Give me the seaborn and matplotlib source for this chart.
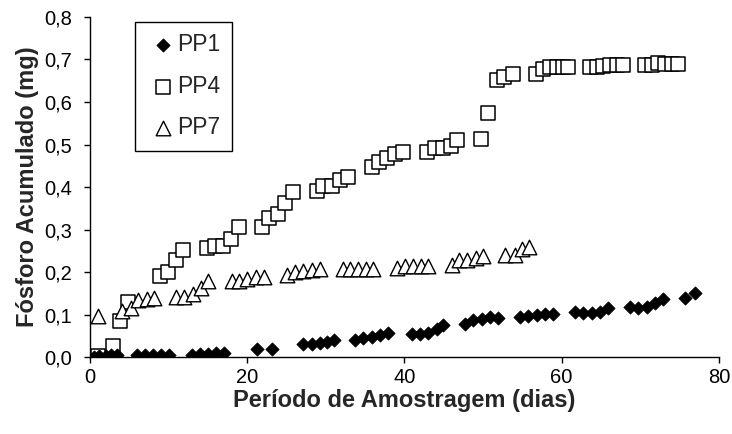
import matplotlib
matplotlib.use("Agg")
import matplotlib.pyplot as plt
from matplotlib.ticker import FuncFormatter
import pandas as pd
import seaborn as sns

# PP1 readings (days, mg)
pp1_dias = [0.5, 1.2, 2.0, 2.7, 3.4,
            6, 7, 8, 9, 10,
            13, 14, 15, 16, 17,
            21.2, 23.2,
            27.1, 28.2, 29.3, 30.2, 31.0,
            33.7, 34.7, 35.9, 36.9, 37.9,
            41, 42, 43, 44.1, 44.9,
            47.7, 48.7, 49.9, 50.9, 51.9,
            54.7, 55.7, 56.9, 57.9, 58.9,
            61.7, 62.7, 63.9, 64.9, 65.9,
            68.7, 69.7, 70.9, 71.9, 72.9,
            75.7, 77.0]
pp1_fosforo = [0.000, 0.002, 0.003, 0.004, 0.006,
               0.006, 0.006, 0.006, 0.006, 0.006,
               0.006, 0.007, 0.008, 0.009, 0.010,
               0.019, 0.020,
               0.030, 0.032, 0.033, 0.035, 0.040,
               0.040, 0.044, 0.048, 0.052, 0.056,
               0.055, 0.054, 0.056, 0.066, 0.075,
               0.079, 0.087, 0.090, 0.094, 0.092,
               0.094, 0.096, 0.099, 0.101, 0.101,
               0.106, 0.104, 0.103, 0.107, 0.115,
               0.118, 0.115, 0.118, 0.127, 0.137,
               0.140, 0.151]

# PP4
pp4_dias = [1.0, 2.9, 3.8, 4.8,
            8.9, 9.9, 10.9, 11.8,
            14.9, 15.9, 16.9, 17.9, 18.9,
            21.9, 22.8, 23.9, 24.8, 25.8,
            28.9, 29.7, 30.8, 31.8, 32.8,
            35.9, 36.8, 37.8, 38.8, 39.8,
            42.9, 43.9, 44.9, 45.9, 46.7,
            49.7, 50.6, 51.8, 52.7, 53.8,
            56.7, 57.6, 58.5, 59.4, 60.2, 60.8,
            63.6, 64.5, 65.3, 66.2, 67.0, 67.8,
            70.6, 71.5, 72.3, 73.2, 74.1, 74.8]
pp4_fosforo = [0.003, 0.027, 0.085, 0.130,
               0.190, 0.200, 0.228, 0.252,
               0.257, 0.261, 0.261, 0.277, 0.306,
               0.307, 0.327, 0.336, 0.362, 0.388,
               0.390, 0.402, 0.402, 0.416, 0.424,
               0.447, 0.459, 0.468, 0.478, 0.482,
               0.482, 0.492, 0.492, 0.497, 0.510,
               0.513, 0.574, 0.652, 0.659, 0.666,
               0.666, 0.678, 0.682, 0.683, 0.683, 0.683,
               0.682, 0.682, 0.684, 0.686, 0.686, 0.686,
               0.688, 0.688, 0.691, 0.690, 0.690, 0.690]

# PP7
pp7_dias = [1.0, 4.1, 5.2, 6.1, 7.2, 8.1,
            11.0, 12.0, 13.1, 14.1, 15.0,
            18.0, 19.0, 20.0, 21.1, 22.1,
            25.0, 26.1, 27.1, 28.2, 29.3,
            32.2, 33.1, 34.1, 35.1, 36.0,
            39.0, 40.1, 41.1, 42.1, 43.0,
            46.0, 46.9, 48.0, 49.1, 50.0,
            52.8, 54.1, 54.9, 55.9]
pp7_fosforo = [0.098, 0.108, 0.116, 0.134, 0.136, 0.139,
               0.141, 0.141, 0.148, 0.162, 0.179,
               0.180, 0.180, 0.183, 0.188, 0.189,
               0.193, 0.200, 0.203, 0.205, 0.207,
               0.207, 0.207, 0.207, 0.208, 0.208,
               0.209, 0.214, 0.214, 0.214, 0.214,
               0.216, 0.228, 0.228, 0.233, 0.238,
               0.240, 0.240, 0.254, 0.259]

df1 = pd.DataFrame({'dias': pp1_dias, 'fosforo': pp1_fosforo})
df4 = pd.DataFrame({'dias': pp4_dias, 'fosforo': pp4_fosforo})
df7 = pd.DataFrame({'dias': pp7_dias, 'fosforo': pp7_fosforo})

sns.set_theme(style='ticks')
plt.rcParams['font.family'] = ['Liberation Sans', 'DejaVu Sans']

fig = plt.figure(figsize=(7.32, 4.34), dpi=100)
ax = fig.add_axes([0.123, 0.177, 0.859, 0.784])

sns.scatterplot(data=df1, x='dias', y='fosforo', ax=ax, marker='D', s=46,
                color='black', edgecolor='black', linewidth=0.5, label='PP1', zorder=3)
sns.scatterplot(data=df4, x='dias', y='fosforo', ax=ax, marker='s', s=100,
                facecolor='white', edgecolor='black', linewidth=1.1, label='PP4', zorder=2)
sns.scatterplot(data=df7, x='dias', y='fosforo', ax=ax, marker='^', s=110,
                facecolor='white', edgecolor='black', linewidth=1.0, label='PP7', zorder=2)

ax.set_xlim(0, 80)
ax.set_ylim(0, 0.8)
ax.set_xticks([0, 20, 40, 60, 80])
ax.set_yticks([0.0, 0.1, 0.2, 0.3, 0.4, 0.5, 0.6, 0.7, 0.8])
ax.yaxis.set_major_formatter(FuncFormatter(lambda v, p: f'{v:.1f}'.replace('.', ',')))
ax.tick_params(axis='both', labelsize=14.5, direction='out', length=4, width=1,
               color='black', labelcolor='black')
ax.tick_params(axis='y', pad=9)
for side in ['left', 'bottom']:
    ax.spines[side].set_color('black')
    ax.spines[side].set_linewidth(1)
sns.despine(ax=ax)

ax.set_xlabel('Período de Amostragem (dias)', fontsize=17, fontweight='bold', labelpad=2)
ax.set_ylabel('Fósforo Acumulado (mg)', fontsize=17, fontweight='bold', labelpad=4)

leg = ax.legend(loc='upper left', bbox_to_anchor=(0.071, 0.985), borderaxespad=0,
                fontsize=16.5, frameon=True, fancybox=False, edgecolor='black',
                framealpha=1, handletextpad=-0.14, labelspacing=0.8, borderpad=0.5,
                handlelength=1.5, markerscale=1.0)
leg.get_frame().set_linewidth(1)

plt.savefig('out.png', dpi=100)
